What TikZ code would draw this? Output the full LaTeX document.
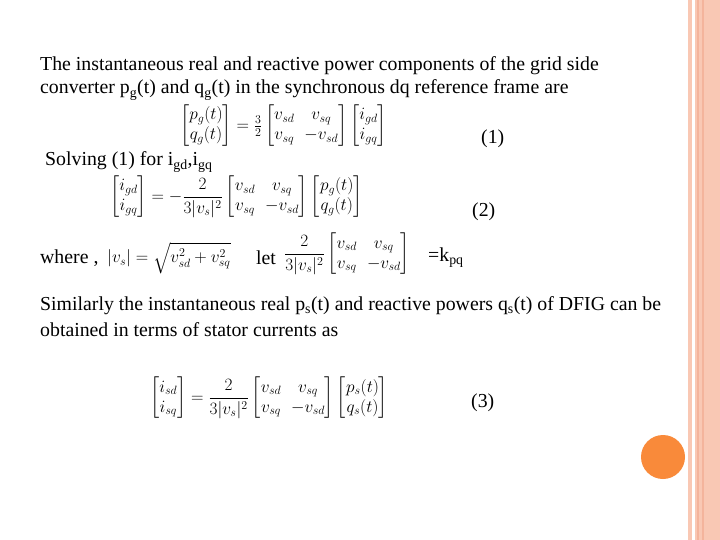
\documentclass[tikz,border=0pt]{standalone}
\usepackage{amsmath}
\usepackage{fontspec}
\setmainfont{Liberation Serif}
\definecolor{stripe}{HTML}{F9C8B4}
\definecolor{stripedark}{HTML}{F4B49C}
\definecolor{dot}{HTML}{F98A3A}
\begin{document}
\begin{tikzpicture}[x=1pt,y=-1pt,
  txt/.style={anchor=west,inner sep=0pt,font=\fontsize{19.8}{23}\selectfont},
  eq/.style={anchor=west,inner sep=0pt,font=\fontsize{17.5}{20}\selectfont}]
\useasboundingbox (0,0) rectangle (720,540);
\fill[white] (0,0) rectangle (720,540);
\fill[stripe] (688,0) rectangle (692,540);
\fill[stripe] (695,0) rectangle (720,540);
\fill[stripedark] (697,0) rectangle (699,540);
\fill[stripedark] (702,0) rectangle (704,540);
\fill[dot] (663,457) circle (22);
\node[txt] (t1) at (40,66) {The instantaneous real and reactive power components of the grid side};
\node[txt] (t2) at (40,90) {converter p\textsubscript{g}(t) and q\textsubscript{g}(t) in the synchronous dq reference frame are};
\node[eq] (e1) at (180,126) {$\begin{bmatrix} p_g(t)\\ q_g(t)\end{bmatrix}=\frac{3}{2}\begin{bmatrix} v_{sd} & v_{sq}\\ v_{sq} & -v_{sd}\end{bmatrix}\begin{bmatrix} i_{gd}\\ i_{gq}\end{bmatrix}$};
\node[txt] (n1) at (481,139) {(1)};
\node[txt] (t3) at (45,162) {Solving (1) for i\textsubscript{gd},i\textsubscript{gq}};
\node[eq] (e2) at (110,197) {$\begin{bmatrix} i_{gd}\\ i_{gq}\end{bmatrix}=-\dfrac{2}{3|v_s|^2}\begin{bmatrix} v_{sd} & v_{sq}\\ v_{sq} & -v_{sd}\end{bmatrix}\begin{bmatrix} p_g(t)\\ q_g(t)\end{bmatrix}$};
\node[txt] (n2) at (472,212) {(2)};
\node[txt] (t4) at (40,258) {where ,};
\node[eq] (e3) at (107,258) {$|v_s|=\sqrt{v_{sd}^2+v_{sq}^2}$};
\node[txt] (t5) at (256,258) {let};
\node[eq] (e4) at (284,254) {$\dfrac{2}{3|v_s|^2}\begin{bmatrix} v_{sd} & v_{sq}\\ v_{sq} & -v_{sd}\end{bmatrix}$};
\node[txt] (t6) at (428,258) {=k\textsubscript{pq}};
\node[txt] (t7) at (40,306) {Similarly the instantaneous real p\textsubscript{s}(t) and reactive powers q\textsubscript{s}(t) of DFIG can be};
\node[txt] (t8) at (40,330) {obtained in terms of stator currents as};
\node[eq] (e5) at (150,398) {$\begin{bmatrix} i_{sd}\\ i_{sq}\end{bmatrix}=\dfrac{2}{3|v_s|^2}\begin{bmatrix} v_{sd} & v_{sq}\\ v_{sq} & -v_{sd}\end{bmatrix}\begin{bmatrix} p_s(t)\\ q_s(t)\end{bmatrix}$};
\node[txt] (n3) at (471,403) {(3)};
\end{tikzpicture}
\end{document}
